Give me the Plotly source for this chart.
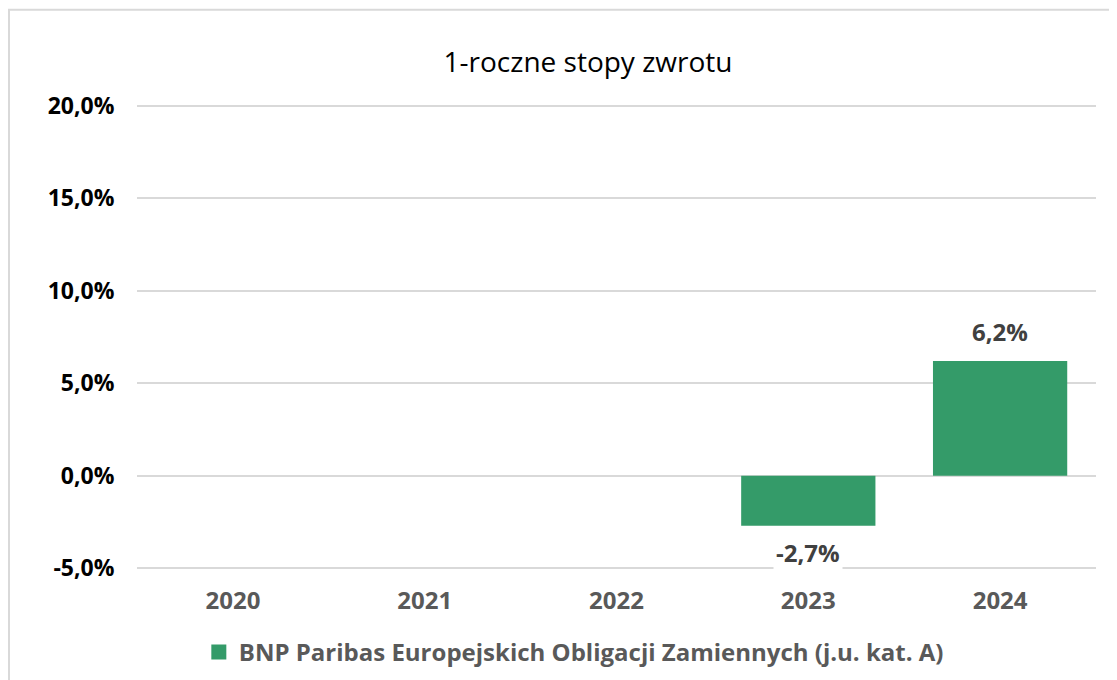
import plotly.graph_objects as go

years = ["2020", "2021", "2022", "2023", "2024"]
returns = [None, None, None, -2.7, 6.2]
series_name = "BNP Paribas Europejskich Obligacji Zamiennych (j.u. kat. A)"
y_ticks = [-5, 0, 5, 10, 15, 20]
y_tick_labels = ["-5,0%", "0,0%", "5,0%", "10,0%", "15,0%", "20,0%"]

GREEN = "#349B69"
FONT = "Open Sans"

x_pos = list(range(len(years)))

fig = go.Figure()
fig.add_trace(go.Bar(
    x=x_pos, y=returns, name=series_name,
    marker=dict(color=GREEN, line=dict(width=0)),
    width=0.7, showlegend=False,
))
# legend entry with a larger square swatch
fig.add_trace(go.Scatter(
    x=[None], y=[None], mode="markers", name=series_name,
    marker=dict(symbol="square", size=15, color=GREEN), showlegend=True,
))

for xp, v in zip(x_pos, returns):
    if v is None:
        continue
    label = f"{v:.1f}".replace(".", ",") + "%"
    fig.add_annotation(
        x=xp, y=v, xref="x", yref="y", text=f"<b>{label}</b>", showarrow=False,
        yanchor="bottom" if v >= 0 else "top",
        yshift=10 if v >= 0 else -7,
        font=dict(family=FONT, size=24, color="#404040"),
        bgcolor="white", borderpad=2,
    )

fig.add_shape(type="rect", xref="paper", yref="paper",
              x0=-0.1335, x1=1.0156, y0=-0.3, y1=1.199,
              line=dict(color="#D9D9D9", width=2), fillcolor="rgba(0,0,0,0)",
              layer="below")

fig.update_layout(
    width=1117, height=680,
    margin=dict(l=129, r=29, t=95, b=117),
    paper_bgcolor="white", plot_bgcolor="white",
    title=dict(text="1-roczne stopy zwrotu", x=580 / 1117, xanchor="center",
               xref="container", yref="container", y=1 - 54 / 680, yanchor="middle",
               font=dict(family=FONT, size=28, color="#000000")),
    xaxis=dict(type="linear", range=[-0.5, len(years) - 0.5],
               tickvals=x_pos, ticktext=years,
               showgrid=False, showline=False, zeroline=False,
               ticks="outside", ticklen=8, tickcolor="rgba(0,0,0,0)",
               tickfont=dict(family=FONT, size=24, color="#595959", weight="bold")),
    yaxis=dict(type="linear", range=[-5.15, 20.15], tickvals=y_ticks, ticktext=y_tick_labels,
               showgrid=True, gridcolor="#D9D9D9", gridwidth=1.5,
               zeroline=True, zerolinecolor="#D9D9D9", zerolinewidth=1.5,
               showline=False,
               ticks="outside", ticklen=17, tickcolor="rgba(0,0,0,0)",
               tickfont=dict(family=FONT, size=23, color="#000000", weight="bold")),
    legend=dict(orientation="h", x=0.4555, xanchor="center", y=-0.1737, yanchor="middle",
                font=dict(family=FONT, size=24, color="#595959", weight="bold"),
                bgcolor="rgba(0,0,0,0)"),
)

fig.write_html("out.html")
